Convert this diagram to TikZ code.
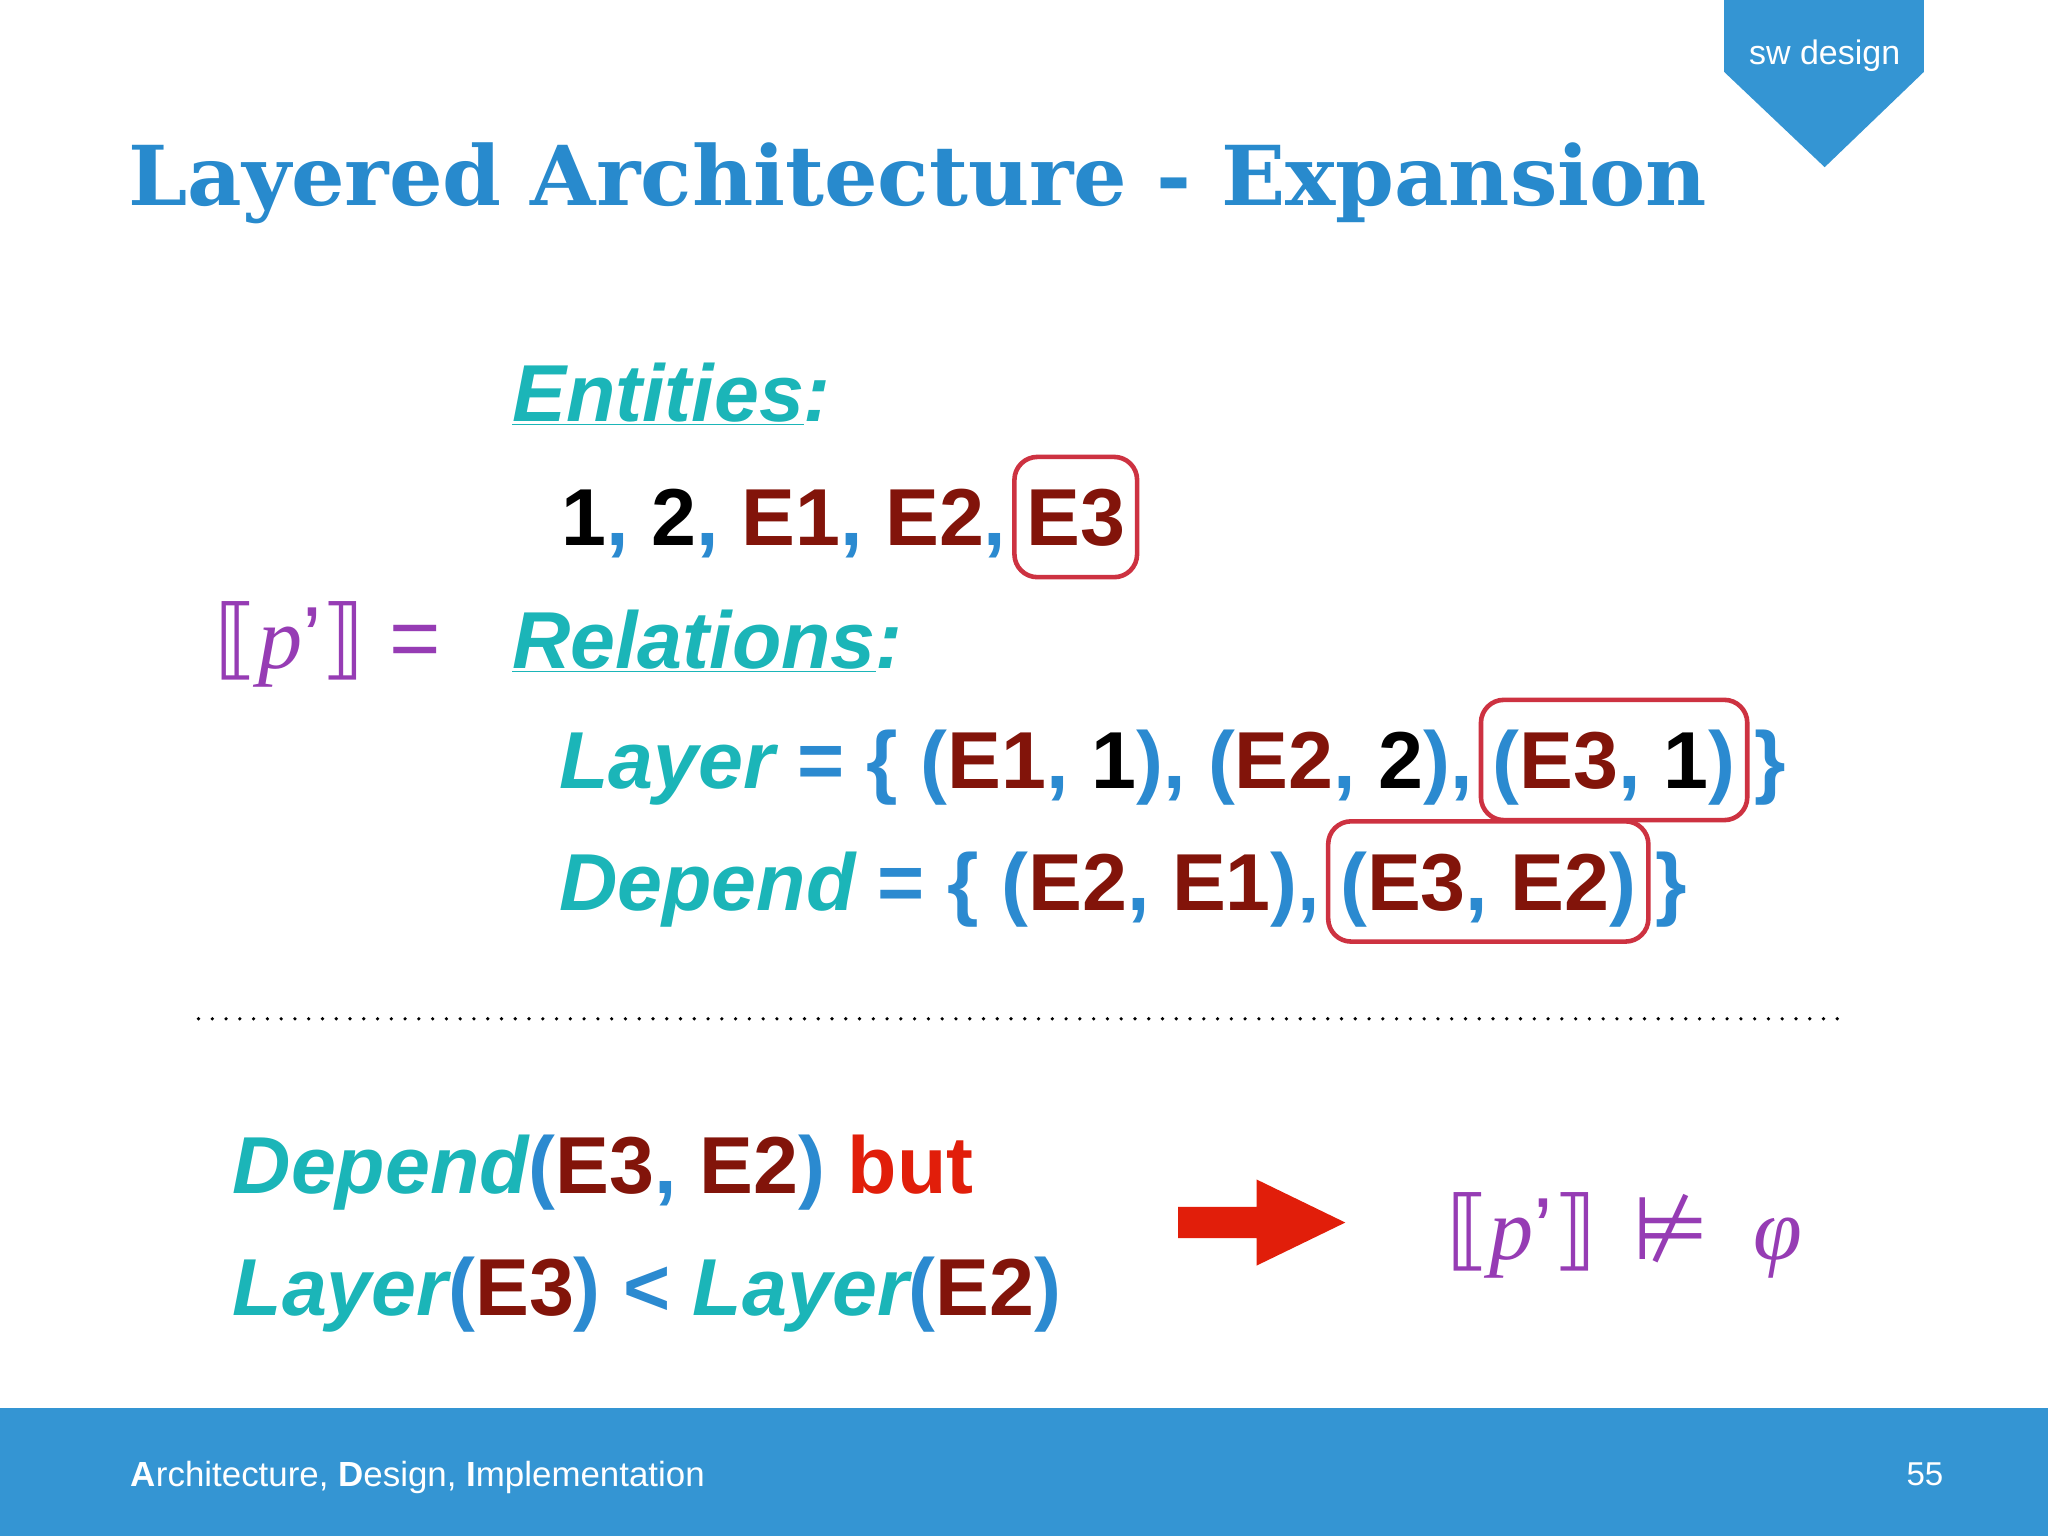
\documentclass[tikz,border=0pt]{standalone}
\usepackage{fontspec}
\setmainfont{Liberation Sans}
\newfontfamily\titlefont{DejaVu Serif}
\newfontfamily\symfont{DejaVu Sans}
\newfontfamily\serifit{Liberation Serif}
\definecolor{ttl}{RGB}{40,138,205}
\definecolor{teal}{RGB}{27,181,184}
\definecolor{dred}{RGB}{130,20,10}
\definecolor{bblue}{RGB}{43,138,208}
\definecolor{purp}{RGB}{150,60,180}
\definecolor{boxred}{RGB}{205,50,65}
\definecolor{arr}{RGB}{225,30,10}
\definecolor{bar}{RGB}{52,149,211}
\newcommand{\tl}[1]{\textcolor{teal}{\itshape #1}}
\newcommand{\dr}[1]{\textcolor{dred}{#1}}
\newcommand{\bl}[1]{\textcolor{bblue}{#1}}
\newcommand{\sem}{{\symfont ⟦}{\serifit\itshape p}’{\symfont ⟧}}
\begin{document}
\begin{tikzpicture}[x=0.05cm,y=-0.05cm,
  big/.style={anchor=base west,inner sep=0pt,font=\fontsize{88}{90}\selectfont\bfseries},
  hl/.style={big,draw=boxred,line width=5pt,rounded corners=25pt,inner xsep=13pt,inner ysep=34pt,text height=63pt,text depth=0pt}]
\useasboundingbox (0,0) rectangle (1568,1176);
\fill[white] (0,0) rectangle (1568,1176);
% tab
\fill[bar] (1320,0) -- (1473,0) -- (1473,55) -- (1397,128) -- (1320,55) -- cycle;
\node[text=white,font=\fontsize{37}{39}\selectfont] (tab) at (1397,43) {sw design};
% title
\node[anchor=base west,inner sep=0pt,text=ttl,font=\titlefont\bfseries\fontsize{90}{92}\selectfont,xscale=1.02] (title) at (98,157) {Layered Architecture - Expansion};
% entities
\node[big] (ent) at (392,323) {\tl{\underline{Entities}:}};
\node[big] (el) at (430,418) {1\bl{,} 2\bl{,} \dr{E1}\bl{,} \dr{E2}\bl{,}};
\node[hl,xshift=6pt] (b1) at (el.base east) {\dr{E3}};
\node[anchor=base west,inner sep=0pt,text=purp,font=\fontsize{96}{98}\selectfont] (pp) at (164,512) {\sem\ =};
\node[big] (rel) at (392,512) {\tl{\underline{Relations}:}};
\node[big] (lay) at (428,604) {\tl{Layer} \bl{= \{ (}\dr{E1}\bl{,} 1\bl{), (}\dr{E2}\bl{,} 2\bl{),}};
\node[hl,xshift=6pt] (b2) at (lay.base east) {\bl{(}\dr{E3}\bl{,} 1\bl{)}};
\node[big,xshift=5pt] (lay2) at (b2.base east) {\bl{\}}};
\node[big] (dep) at (428,697) {\tl{Depend} \bl{= \{ (}\dr{E2}\bl{,} \dr{E1}\bl{),}};
\node[hl,xshift=6pt] (b3) at (dep.base east) {\bl{(}\dr{E3}\bl{,} \dr{E2}\bl{)}};
\node[big,xshift=5pt] (dep2) at (b3.base east) {\bl{\}}};
% dotted
\coordinate (d1) at (152,780); \coordinate (d2) at (1410,780);
\draw[line width=4pt,dash pattern=on 0pt off 15pt,line cap=round] (d1) -- (d2);
% bottom
\node[big] (c1) at (178,914) {\tl{Depend}\bl{(}\dr{E3}\bl{,} \dr{E2}\bl{)} \textcolor{arr}{but}};
\node[big] (c2) at (178,1007) {\tl{Layer}\bl{(}\dr{E3}\bl{)} \bl{<} \tl{Layer}\bl{(}\dr{E2}\bl{)}};
\fill[arr] (902,924) -- (962,924) -- (962,903) -- (1030,936) -- (962,969) -- (962,948) -- (902,948) -- cycle;
\node[anchor=base west,inner sep=0pt,text=purp,font=\fontsize{96}{98}\selectfont] (res) at (1107,964) {\sem\hspace{0.4em}{\symfont ⊭}\hspace{0.5em}{\serifit\itshape φ}};
% footer
\fill[bar] (0,1078) rectangle (1568,1176);
\node[anchor=base west,inner sep=0pt,text=white,font=\fontsize{38}{40}\selectfont] (foot) at (100,1138) {\textbf{A}rchitecture, \textbf{D}esign, \textbf{I}mplementation};
\node[anchor=base east,inner sep=0pt,text=white,font=\fontsize{36}{38}\selectfont] (pg) at (1488,1137) {55};
\end{tikzpicture}
\end{document}
